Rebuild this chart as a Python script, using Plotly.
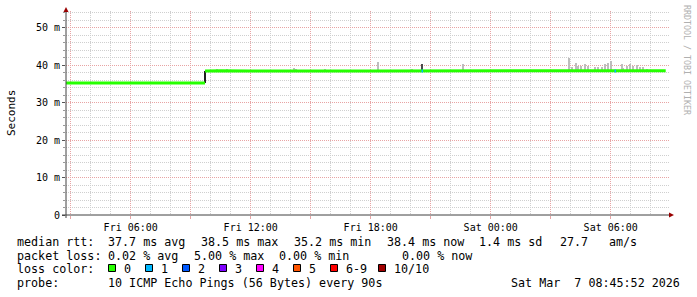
import plotly.graph_objects as go
import datetime as _dt

# ---------------- data ----------------
X_START = "2026-03-06 02:45:52"
X_END = "2026-03-07 08:54:52"

# median rtt (ms); None breaks the line at the step
median_times = ["2026-03-06 02:46", "2026-03-06 06:00", "2026-03-06 09:43", "2026-03-06 09:43",
                "2026-03-06 09:43", "2026-03-06 10:30", "2026-03-06 12:00", "2026-03-06 14:00",
                "2026-03-06 16:00", "2026-03-06 18:00", "2026-03-06 20:00", "2026-03-06 22:00",
                "2026-03-07 00:00", "2026-03-07 02:00", "2026-03-07 04:00", "2026-03-07 06:00",
                "2026-03-07 08:00", "2026-03-07 08:45"]
median_ms = [35.2, 35.2, 35.2, None,
             38.4, 38.5, 38.4, 38.5,
             38.4, 38.4, 38.4, 38.4,
             38.4, 38.4, 38.4, 38.4,
             38.4, 38.5]

# transition at the step (dense smoke)
step_times = ["2026-03-06 09:43"]
step_low = [35.2]
step_high = [38.5]

# light smoke (max rtt above median)
smoke_times = ["2026-03-06 10:20", "2026-03-06 10:50", "2026-03-06 14:10", "2026-03-06 14:17",
               "2026-03-06 15:43", "2026-03-06 18:21", "2026-03-06 20:03", "2026-03-06 22:38",
               "2026-03-07 03:55", "2026-03-07 04:03", "2026-03-07 04:15", "2026-03-07 04:22",
               "2026-03-07 04:30", "2026-03-07 04:43", "2026-03-07 04:53", "2026-03-07 05:13",
               "2026-03-07 05:22", "2026-03-07 05:33", "2026-03-07 05:43", "2026-03-07 05:53",
               "2026-03-07 06:00", "2026-03-07 06:33", "2026-03-07 06:38", "2026-03-07 06:48",
               "2026-03-07 06:58", "2026-03-07 07:08", "2026-03-07 07:18", "2026-03-07 07:28",
               "2026-03-07 07:38", "2026-03-07 07:48"]
smoke_low = [38.4] * len(smoke_times)
smoke_high = [38.8, 38.8, 39.1, 39.0,
              39.0, 40.7, 38.8, 40.3,
              41.8, 39.4, 40.6, 39.7,
              39.7, 40.3, 39.7, 39.4,
              39.4, 39.6, 40.2, 40.5,
              41.2, 40.2, 39.2, 39.7,
              40.2, 39.7, 39.9, 39.4,
              39.4, 39.0]

# dense smoke spike
dense_times = ["2026-03-06 20:34"]
dense_low = [38.4]
dense_high = [40.3]

# intervals with packet loss (count of lost pings)
loss_times = ["2026-03-06 20:34", "2026-03-07 06:13"]
loss_count = [1, 1]
loss_ms = [38.4, 38.4]

loss_labels = ["0", "1", "2", "3", "4", "5", "6-9", "10/10"]
loss_colors = ["#26ff00", "#00b8ff", "#0059ff", "#7e00ff", "#ff00ff", "#ff5500", "#ff0000", "#a00000"]

y_tick_vals = [0, 10, 20, 30, 40, 50]
y_tick_text = ["0", "10 m", "20 m", "30 m", "40 m", "50 m"]
x_tick_vals = ["2026-03-06 03:00", "2026-03-06 06:00", "2026-03-06 09:00", "2026-03-06 12:00",
               "2026-03-06 15:00", "2026-03-06 18:00", "2026-03-06 21:00", "2026-03-07 00:00",
               "2026-03-07 03:00", "2026-03-07 06:00"]
x_tick_text = ["", "Fri 06:00", "", "Fri 12:00", "", "Fri 18:00", "", "Sat 00:00", "", "Sat 06:00"]

stats_rtt = [("median rtt:", 16), ("37.7 ms avg", 107), ("38.5 ms max", 200), ("35.2 ms min", 293),
             ("38.4 ms now", 386), ("1.4 ms sd", 478), ("27.7", 559), ("am/s", 608)]
stats_loss = [("packet loss:", 16), ("0.02 % avg", 107), ("5.00 % max", 193), ("0.00 % min", 278),
              ("0.00 % now", 401)]
probe_text = "10 ICMP Echo Pings (56 Bytes) every 90s"
stamp_text = "Sat Mar  7 08:45:52 2026"

# ---------------- layout helpers ----------------
L, R, T, B = 66, 669, 11, 215
W, H = 697, 297


def px(x):
    return (x - L) / (R - L)


def py(y):
    return (B - y) / (B - T)


MONO = "DejaVu Sans Mono"

fig = go.Figure()

# light smoke
fig.add_trace(go.Bar(x=smoke_times, y=[h - l for h, l in zip(smoke_high, smoke_low)], base=smoke_low,
                     width=170000, marker=dict(color="#bdbdbd", line=dict(width=0)), hoverinfo="skip"))
# dense smoke
fig.add_trace(go.Bar(x=dense_times, y=[h - l for h, l in zip(dense_high, dense_low)], base=dense_low,
                     width=170000, marker=dict(color="#4a4a4a", line=dict(width=0)), hoverinfo="skip"))
fig.add_trace(go.Bar(x=step_times, y=[h - l for h, l in zip(step_high, step_low)], base=step_low,
                     width=170000, marker=dict(color="#202020", line=dict(width=0)), hoverinfo="skip"))

# median line
fig.add_trace(go.Scatter(x=median_times, y=median_ms, mode="lines", connectgaps=False,
                         line=dict(color=loss_colors[0], width=3), hoverinfo="skip"))

# loss coloured pieces of the median
for t, c, v in zip(loss_times, loss_count, loss_ms):
    tt = _dt.datetime.strptime(t, "%Y-%m-%d %H:%M")
    fig.add_trace(go.Scatter(x=[tt - _dt.timedelta(minutes=1.5), tt + _dt.timedelta(minutes=3)], y=[v, v],
                             mode="lines", line=dict(color=loss_colors[c], width=3), hoverinfo="skip"))

MAJ = "#e8a4a4"
MIN = "#cfcfcf"
fig.update_layout(
    width=W, height=H, margin=dict(l=L, r=W - R, t=T, b=H - B),
    paper_bgcolor="white", plot_bgcolor="white", showlegend=False,
    barmode="overlay", bargap=0,
    xaxis=dict(type="date", range=[X_START, X_END], tickmode="array", tickvals=x_tick_vals,
               ticktext=x_tick_text, showgrid=True, gridcolor=MAJ, gridwidth=1, griddash="1px,1px",
               ticks="outside", ticklen=3, tickcolor=MAJ, zeroline=False, showline=False,
               tickfont=dict(family=MONO, size=10, color="black"),
               minor=dict(dtick=3600000, tick0="2026-03-06 00:00", showgrid=True, gridcolor=MIN,
                          griddash="1px,1px", gridwidth=1)),
    yaxis=dict(range=[0, (B - T) / 3.75], tickmode="array", tickvals=y_tick_vals, ticktext=y_tick_text,
               showgrid=True, gridcolor=MAJ, gridwidth=1, griddash="1px,1px",
               ticks="outside", ticklen=3, tickcolor="#555555", zeroline=False, showline=False,
               tickfont=dict(family=MONO, size=10, color="black"),
               minor=dict(dtick=2, tick0=0, showgrid=True, gridcolor=MIN, griddash="1px,1px", gridwidth=1,
                          ticks="outside", ticklen=2, tickcolor="#999999")),
)

shapes = []
# axis lines
shapes.append(dict(type="line", xref="paper", yref="paper", x0=px(62), x1=px(669), y0=py(215), y1=py(215),
                   line=dict(color="#404040", width=1)))
shapes.append(dict(type="line", xref="paper", yref="paper", x0=px(66), x1=px(66), y0=py(218), y1=py(10),
                   line=dict(color="#404040", width=1)))
# arrows
shapes.append(dict(type="path", xref="paper", yref="paper",
                   path=f"M {px(63.5)},{py(12)} L {px(68.5)},{py(12)} L {px(66)},{py(7)} Z",
                   fillcolor="#990000", line=dict(width=0)))
shapes.append(dict(type="path", xref="paper", yref="paper",
                   path=f"M {px(669)},{py(212.5)} L {px(669)},{py(217.5)} L {px(674)},{py(215)} Z",
                   fillcolor="#990000", line=dict(width=0)))

ann = []


def text(s, x, y, size=11.7, color="black", xanchor="left", angle=0, family=MONO):
    ann.append(dict(text=s, x=px(x), y=py(y), xref="paper", yref="paper", showarrow=False,
                    xanchor=xanchor, yanchor="middle", textangle=angle,
                    font=dict(family=family, size=size, color=color)))


text("Seconds", 11, 113, size=11, xanchor="center", angle=-90)
text("RRDTOOL / TOBI OETIKER", 687, 60, size=8.3, color="#b0b0b0", xanchor="center", angle=90)

LINE_Y = [241.5, 255.5, 269.3, 283.3]
for s, x in stats_rtt:
    text(s, x - 1, LINE_Y[0])
for s, x in stats_loss:
    text(s, x - 1, LINE_Y[1])
text("loss color:", 15, LINE_Y[2])
sq_x = [108, 145, 182, 219, 256, 293, 330, 378]
for lab, col, sx in zip(loss_labels, loss_colors, sq_x):
    shapes.append(dict(type="rect", xref="paper", yref="paper", x0=px(sx + 0.5), x1=px(sx + 7.5),
                       y0=py(264.5), y1=py(271.5), fillcolor=col, line=dict(color="black", width=1)))
    text(lab, sx + 14, LINE_Y[2])
text("probe:", 15, LINE_Y[3])
text(probe_text, 106, LINE_Y[3])
text(stamp_text, 682, LINE_Y[3], xanchor="right")

fig.update_layout(shapes=shapes, annotations=ann)
fig.write_html("out.html")
